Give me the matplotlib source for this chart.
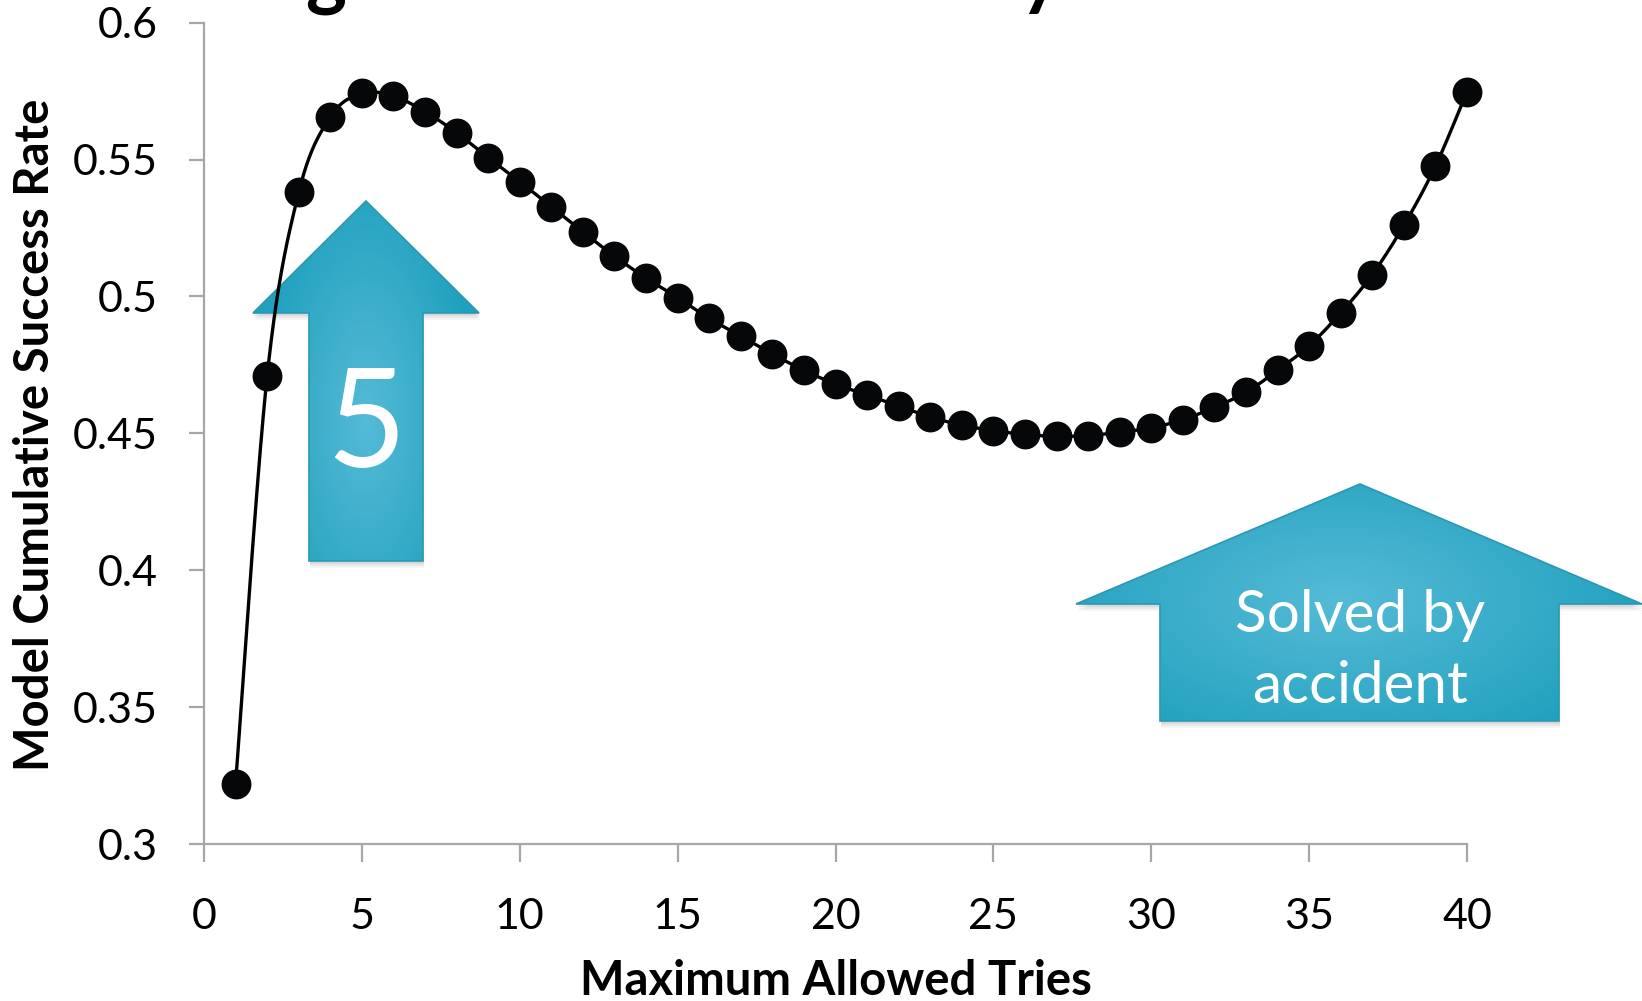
import numpy as np
import matplotlib
matplotlib.use("Agg")
import matplotlib.pyplot as plt
from matplotlib.patches import Polygon

# ---- data -------------------------------------------------------------
tries = list(range(1, 41))
success_rate = [
    0.322, 0.471, 0.538, 0.5656, 0.5742, 0.5732, 0.5675, 0.5598, 0.5507, 0.5419,
    0.5328, 0.5236, 0.5147, 0.5067, 0.4996, 0.4920, 0.4855, 0.4790, 0.4730, 0.4680,
    0.4640, 0.4600, 0.4560, 0.4530, 0.4510, 0.4496, 0.4489, 0.4492, 0.4504, 0.4520,
    0.4550, 0.4595, 0.4650, 0.4730, 0.4820, 0.4940, 0.5080, 0.5260, 0.5476, 0.5748,
]
x_ticks = [0, 5, 10, 15, 20, 25, 30, 35, 40]
y_ticks = [0.3, 0.35, 0.4, 0.45, 0.5, 0.55, 0.6]
y_tick_labels = ["0.3", "0.35", "0.4", "0.45", "0.5", "0.55", "0.6"]
x_label = "Maximum Allowed Tries"
y_label = "Model Cumulative Success Rate"
note_left = "5"
note_right = "Solved by\naccident"

W, H = 1642, 1001
FONT = ["Lato", "DejaVu Sans"]
GREY = "#A6A6A6"


def catmull_rom(xs, ys, n=24):
    """Smoothed polyline through the points (uniform Catmull-Rom)."""
    p = np.column_stack([xs, ys]).astype(float)
    p = np.vstack([p[0], p, p[-1]])
    out = []
    t = np.linspace(0, 1, n, endpoint=False)[:, None]
    for i in range(1, len(p) - 2):
        p0, p1, p2, p3 = p[i - 1], p[i], p[i + 1], p[i + 2]
        seg = 0.5 * (2 * p1 + (-p0 + p2) * t
                     + (2 * p0 - 5 * p1 + 4 * p2 - p3) * t ** 2
                     + (-p0 + 3 * p1 - 3 * p2 + p3) * t ** 3)
        out.append(seg)
    out.append(p[-2][None, :])
    out = np.vstack(out)
    return out[:, 0], out[:, 1]


fig = plt.figure(figsize=(W / 100, H / 100), dpi=100)
fig.patch.set_facecolor("white")

# ---- overlay for the callout arrows (drawn beneath the data) ----------
ov = fig.add_axes([0, 0, 1, 1], zorder=0)
ov.set_xlim(0, W)
ov.set_ylim(H, 0)
ov.axis("off")


def gradient_arrow(pts, center, radii):
    xs = [p[0] for p in pts]
    ys = [p[1] for p in pts]
    # soft shadow
    for k, a in zip([7, 5, 3], [0.06, 0.08, 0.10]):
        sh = Polygon([(x + 1, y + k) for x, y in pts], closed=True,
                     facecolor="#555555", edgecolor="none", alpha=a)
        ov.add_patch(sh)
    x0, x1, y0, y1 = min(xs), max(xs), min(ys), max(ys)
    gx, gy = np.meshgrid(np.linspace(x0, x1, 300), np.linspace(y0, y1, 300))
    r = np.sqrt(((gx - center[0]) / radii[0]) ** 2 + ((gy - center[1]) / radii[1]) ** 2)
    r = np.clip(r, 0, 1)
    light = np.array([0x55, 0xBB, 0xD7]) / 255
    dark = np.array([0x1F, 0xA0, 0xBD]) / 255
    img = light[None, None, :] * (1 - r[..., None]) + dark[None, None, :] * r[..., None]
    body = Polygon(pts, closed=True, facecolor="none", edgecolor="#2B98B3", lw=1.2)
    ov.add_patch(body)
    im = ov.imshow(img, extent=(x0, x1, y1, y0), origin="upper",
                   aspect="auto", interpolation="bilinear", zorder=1)
    im.set_clip_path(body)
    body.set_zorder(2)


arrow_left = [(366, 201), (479, 313), (423, 313), (423, 561),
              (309, 561), (309, 313), (253, 313)]
arrow_right = [(1360, 484), (1642, 604), (1559, 604), (1559, 721),
               (1160, 721), (1160, 604), (1076, 604)]
gradient_arrow(arrow_left, (366, 420), (110, 260))
gradient_arrow(arrow_right, (1340, 600), (330, 170))
ov.set_xlim(0, W)
ov.set_ylim(H, 0)

ov.text(366, 467, note_left, color="white", fontsize=99, ha="center",
        va="baseline", family=FONT, zorder=3)
ov.text(1360, 632, note_right.split("\n")[0], color="white", fontsize=42,
        ha="center", va="baseline", family=FONT, zorder=3)
ov.text(1360, 703, note_right.split("\n")[1], color="white", fontsize=42,
        ha="center", va="baseline", family=FONT, zorder=3)

# bottoms of the heading letters along the top edge
fig.text(326 / W, 1.0, "g", fontsize=56, fontweight="bold", family=FONT,
         ha="center", va="baseline", color="black")
fig.text(1040 / W, 1.0, "y", fontsize=56, fontweight="bold", family=FONT,
         ha="center", va="baseline", color="black")

# ---- main chart --------------------------------------------------------
ax = fig.add_axes([204 / W, 1 - 844 / H, (1467 - 204) / W, (844 - 22.7) / H], zorder=2)
ax.patch.set_visible(False)
sx, sy = catmull_rom(tries, success_rate)
ax.plot(sx, sy, color="black", lw=2.4, clip_on=False, zorder=3)
ax.plot(tries, success_rate, "o", color="#050708", ms=20.5, clip_on=False, zorder=4)

ax.set_xlim(0, 40)
ax.set_ylim(0.3, 0.6)
ax.set_xticks(x_ticks)
ax.set_yticks(y_ticks)
ax.set_yticklabels(y_tick_labels)
for s in ("top", "right"):
    ax.spines[s].set_visible(False)
for s in ("left", "bottom"):
    ax.spines[s].set_color(GREY)
    ax.spines[s].set_linewidth(1.6)
ax.tick_params(axis="x", direction="out", length=13, width=1.6, color=GREY,
               pad=26, labelsize=31)
ax.tick_params(axis="y", direction="out", length=10.5, width=1.6, color=GREY,
               pad=23, labelsize=31)
for lab in ax.get_xticklabels() + ax.get_yticklabels():
    lab.set_family(FONT)

fig.text(35 / W, 1 - 435 / H, y_label, rotation=90, ha="center", va="center",
         fontsize=34, fontweight="bold", family=FONT)
fig.text(836 / W, 1 - 995 / H, x_label, ha="center", va="baseline",
         fontsize=34, fontweight="bold", family=FONT)

fig.savefig("out.png", dpi=100)
